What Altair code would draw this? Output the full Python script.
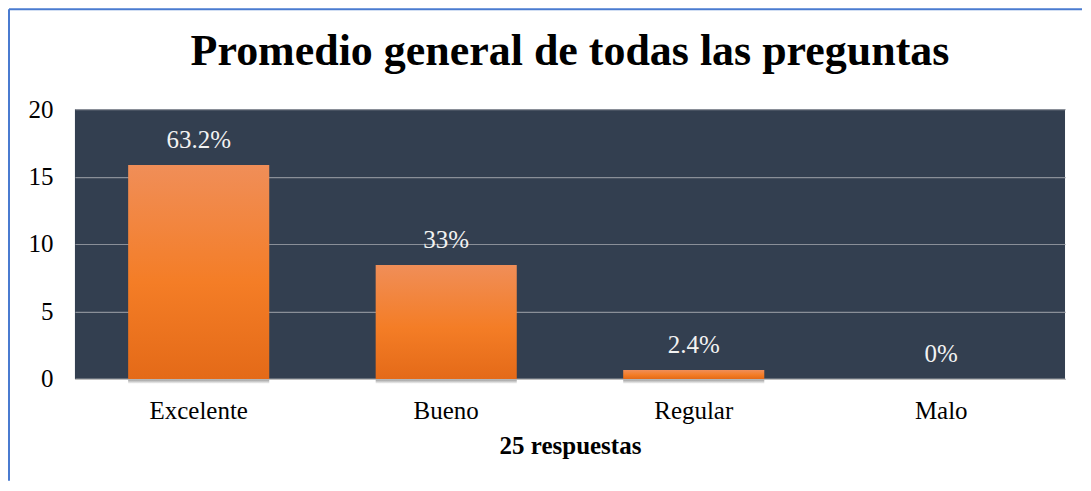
import altair as alt
import pandas as pd

categories = ["Excelente", "Bueno", "Regular", "Malo"]
counts = [15.85, 8.45, 0.65, 0.0]
labels = ["63.2%", "33%", "2.4%", "0%"]
y_ticks = [0, 5, 10, 15, 20]

df = pd.DataFrame({"cat": categories, "val": counts, "lab": labels})

FONT = "Liberation Serif, Times New Roman, serif"

grad = alt.Gradient(
    gradient="linear",
    stops=[
        alt.GradientStop(color="#F08E58", offset=0),
        alt.GradientStop(color="#F47D26", offset=0.55),
        alt.GradientStop(color="#E46A18", offset=1),
    ],
    x1=0, x2=0, y1=0, y2=1,
)
shadow_grad = alt.Gradient(
    gradient="linear",
    stops=[
        alt.GradientStop(color="#8C8C8C", offset=0),
        alt.GradientStop(color="#FFFFFF", offset=1),
    ],
    x1=0, x2=0, y1=0, y2=1,
)

x_enc = alt.X(
    "cat:N",
    sort=categories,
    scale=alt.Scale(paddingInner=0.43, paddingOuter=0.215),
    axis=alt.Axis(
        title="25 respuestas",
        labelAngle=0,
        labelFont=FONT,
        labelFontSize=25,
        labelColor="#000000",
        labelPadding=20,
        ticks=False,
        domainColor="#BFBFBF",
        domainWidth=1.5,
        titleFont=FONT,
        titleFontSize=25,
        titleFontWeight="bold",
        titleColor="#000000",
        titlePadding=10,
    ),
)
y_enc = alt.Y(
    "val:Q",
    scale=alt.Scale(domain=[0, 20]),
    axis=alt.Axis(
        title=None,
        values=y_ticks,
        labelFont=FONT,
        labelFontSize=25,
        labelColor="#000000",
        labelPadding=22,
        ticks=False,
        domain=False,
        gridColor="#8A8F98",
        gridWidth=1.2,
    ),
)

base = alt.Chart(df)
bars = base.mark_bar(color=grad).encode(x=x_enc, y=y_enc)
shadow = base.transform_filter("datum.val > 0").mark_bar(
    color=shadow_grad, opacity=0.8
).encode(
    x=x_enc,
    y=alt.value(271),
    y2=alt.value(275),
)
text = base.mark_text(
    font=FONT, fontSize=25, color="#F2F2F2", baseline="alphabetic", dy=-17
).encode(x=x_enc, y=y_enc, text="lab:N")

border_df = pd.DataFrame({"k": [0]})
top_line = alt.Chart(border_df).mark_rule(color="#4A7BD0", strokeWidth=2).encode(
    x=alt.value(-66), x2=alt.value(1008), y=alt.value(-100)
)
left_line = alt.Chart(border_df).mark_rule(color="#4A7BD0", strokeWidth=2).encode(
    x=alt.value(-66), y=alt.value(-100), y2=alt.value(372)
)

chart = (
    alt.layer(bars, shadow, text, top_line, left_line)
    .properties(
        width=991,
        height=270,
        padding=0,
        background="#FFFFFF",
        title=alt.TitleParams(
            "Promedio general de todas las preguntas",
            font=FONT,
            fontSize=44,
            fontWeight="bold",
            color="#000000",
            anchor="middle",
            frame="group",
            baseline="alphabetic",
            offset=-101,
        ),
    )
    .configure(font=FONT)
    .configure_axis(labelFont=FONT, titleFont=FONT)
    .configure_text(font=FONT)
    .configure_view(fill="#333F50", stroke=None)
)

chart.save("out.html", embed_options={"renderer": "svg", "actions": False})
